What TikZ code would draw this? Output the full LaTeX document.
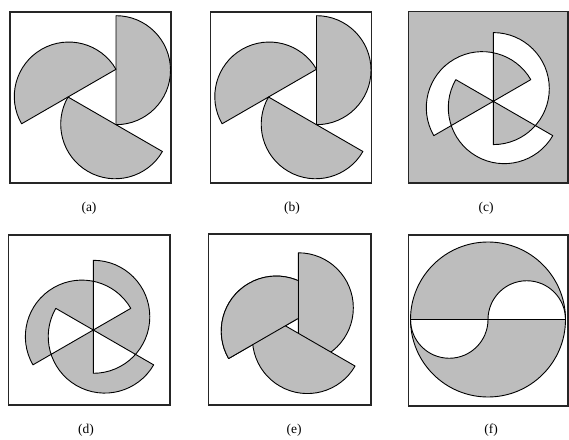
\documentclass[tikz,border=0pt]{standalone}
\usepackage{fontspec}
\setmainfont{Liberation Serif}
\usetikzlibrary{calc}
\definecolor{fillg}{gray}{0.74}
\tikzset{
 semi/.style n args={5}{insert path={($(#1)+(#2:#3)+(#2+90:-#4)$) -- ($(#1)+(#2:#3)+(#2+90:2*#5-#4)$) arc[start angle=#2+90,end angle=#2-90,radius=#5] -- cycle}},
 frame/.style={draw=black!85, line width=1.5pt},
 piece/.style={fill=fillg, draw=black, line width=0.9pt, line join=round},
 outl/.style={draw=black, line width=0.9pt, line join=round},
 lab/.style={font=\fontsize{13.5}{16}\selectfont, inner sep=0pt}
}
\begin{document}
\begin{tikzpicture}[x=1pt,y=1pt]
\useasboundingbox (0,0) rectangle (569,439);
% centres
\coordinate (Oa) at (100,342);
\coordinate (Ob) at (300.5,342);
\coordinate (Oc) at (493.3,337.7);
\coordinate (Od) at (93.3,109);
\coordinate (Oe) at (294,113.2);
\coordinate (Of) at (488,119.5);
% (a)
\draw[frame] (10,256) rectangle (171,427);
\path[piece] [semi={Oa}{0}{16}{27.7}{54.5}];
\path[piece] [semi={Oa}{120}{16}{27.7}{54.5}];
\path[piece] [semi={Oa}{240}{16}{27.7}{54.5}];
\node[lab] (la) at (89,231) {(a)};
% (b)
\draw[frame] (210.5,256) rectangle (371.5,427);
\path[piece] [semi={Ob}{0}{16}{27.7}{54.5}];
\path[piece] [semi={Ob}{120}{16}{27.7}{54.5}];
\path[piece] [semi={Ob}{240}{16}{27.7}{54.5}];
\node[lab] (lb) at (292,231) {(b)};
% (c)
\draw[frame, fill=fillg] (408.3,256) rectangle (567.8,427.3);
\path[fill=white, outl, even odd rule] [semi={Oc}{0}{0}{43.3}{56}] [semi={Oc}{120}{0}{43.3}{56}] [semi={Oc}{240}{0}{43.3}{56}];
\node[lab] (lc) at (486,231) {(c)};
% (d)
\draw[frame] (8.3,34) rectangle (170,204);
\path[piece, even odd rule] [semi={Od}{0}{0}{43.3}{56.5}] [semi={Od}{120}{0}{43.3}{56.5}] [semi={Od}{240}{0}{43.3}{56.5}];
\node[lab] (ld) at (86,9) {(d)};
% (e)
\draw[frame] (208.3,34) rectangle (371,205);
\path[piece] [semi={Oe}{120}{4.33}{37}{55}];
\path[piece] [semi={Oe}{0}{4.33}{37}{55}];
\path[piece] [semi={Oe}{240}{4.33}{37}{55}];
\begin{scope}
\clip (212,38) rectangle ($(Oe)+(3.6,88)$);
\path[piece] [semi={Oe}{120}{4.33}{37}{55}];
\end{scope}
\node[lab] (le) at (294,9) {(e)};
% (f)
\draw[frame] (408.3,33) rectangle (567.8,204);
\coordinate (fL) at ($(Of)+(-77.5,0)$);
\coordinate (fR) at ($(Of)+(77.5,0)$);
\fill[fillg] (Of) circle[radius=77.5];
\fill[white] (Of) -- (fL) arc[start angle=180,end angle=360,radius=38.75] -- cycle;
\fill[white] (Of) arc[start angle=180,end angle=0,radius=38.75] -- cycle;
\draw[outl] (Of) circle[radius=77.5];
\draw[outl] (fL) -- (fR);
\draw[outl] (fL) arc[start angle=180,end angle=360,radius=38.75] arc[start angle=180,end angle=0,radius=38.75];
\node[lab] (lf) at (491,9) {(f)};
\end{tikzpicture}
\end{document}
